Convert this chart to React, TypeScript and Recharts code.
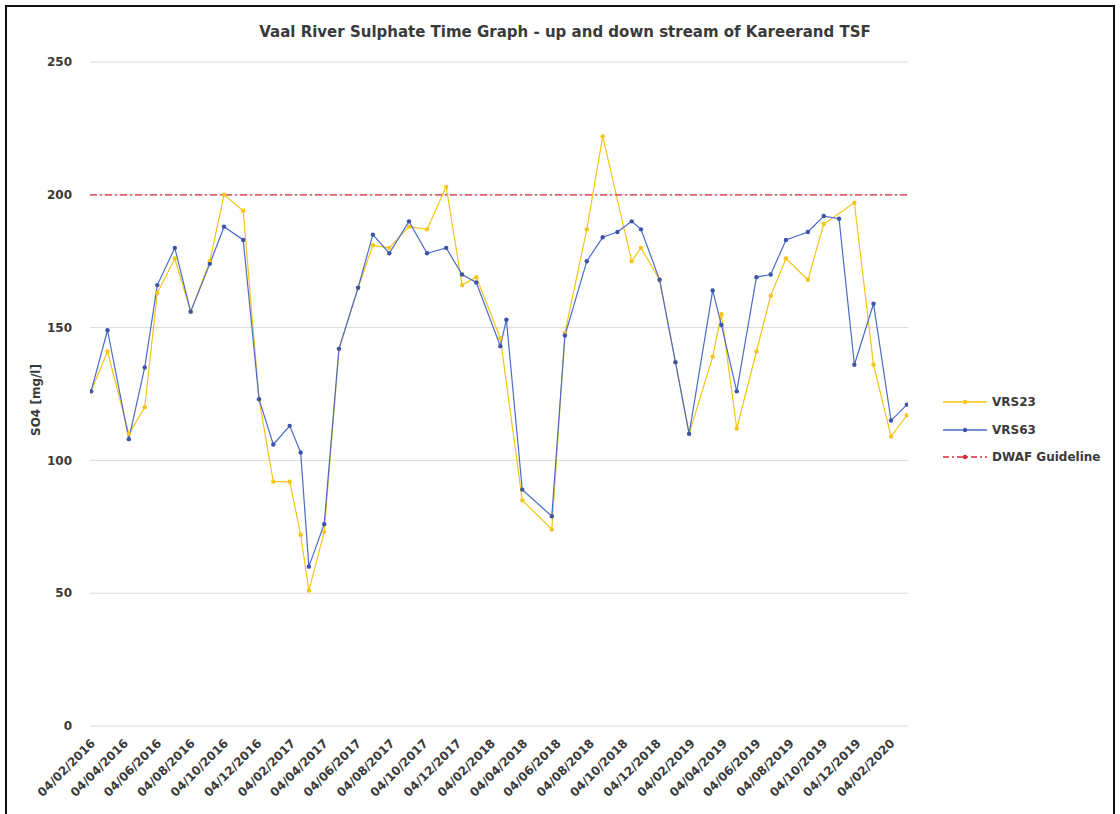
import React from "react";
import { LineChart, Line, XAxis, YAxis, CartesianGrid, ReferenceLine } from "recharts";

// sample dates (yyyy-mm-dd) and sulphate readings in mg/l
const sampleDates = [
  "2016-02-06", "2016-03-07", "2016-04-15", "2016-05-14", "2016-06-06", "2016-07-08",
  "2016-08-06", "2016-09-10", "2016-10-06", "2016-11-10", "2016-12-09", "2017-01-04",
  "2017-02-03", "2017-02-23", "2017-03-10", "2017-04-07", "2017-05-04", "2017-06-08",
  "2017-07-05", "2017-08-04", "2017-09-09", "2017-10-12", "2017-11-16", "2017-12-15",
  "2018-01-10", "2018-02-23", "2018-03-06", "2018-04-04", "2018-05-28", "2018-06-21",
  "2018-07-31", "2018-08-29", "2018-09-25", "2018-10-21", "2018-11-07", "2018-12-11",
  "2019-01-09", "2019-02-03", "2019-03-18", "2019-04-03", "2019-05-01", "2019-06-06",
  "2019-07-02", "2019-07-30", "2019-09-08", "2019-10-07", "2019-11-04", "2019-12-02",
  "2020-01-06", "2020-02-07", "2020-03-07",
];

const vrs23 = [
  126, 141, 110, 120, 163, 176, 156, 175, 200, 194, 123, 92,
  92, 72, 51, 73, 142, 165, 181, 180, 188, 187, 203, 166,
  169, 146, null, 85, 74, 148, 187, 222, null, 175, 180, 168,
  137, 110, 139, 155, 112, 141, 162, 176, 168, 189, null, 197,
  136, 109, 117,
];

const vrs63 = [
  126, 149, 108, 135, 166, 180, 156, 174, 188, 183, 123, 106,
  113, 103, 60, 76, 142, 165, 185, 178, 190, 178, 180, 170,
  167, 143, 153, 89, 79, 147, 175, 184, 186, 190, 187, 168,
  137, 110, 164, 151, 126, 169, 170, 183, 186, 192, 191, 136,
  159, 115, 121,
];

const DWAF_GUIDELINE = 200;

const yTicks = [0, 50, 100, 150, 200, 250];

const xTickDates = [
  "2016-02-04", "2016-04-04", "2016-06-04", "2016-08-04", "2016-10-04", "2016-12-04",
  "2017-02-04", "2017-04-04", "2017-06-04", "2017-08-04", "2017-10-04", "2017-12-04",
  "2018-02-04", "2018-04-04", "2018-06-04", "2018-08-04", "2018-10-04", "2018-12-04",
  "2019-02-04", "2019-04-04", "2019-06-04", "2019-08-04", "2019-10-04", "2019-12-04",
  "2020-02-04",
];

const axisStart = "2016-02-04";
const axisEnd = "2020-03-09";

const toTime = (d: string) =>
  Date.UTC(Number(d.slice(0, 4)), Number(d.slice(5, 7)) - 1, Number(d.slice(8, 10)));

const fmtDate = (t: number) => {
  const d = new Date(t);
  const dd = String(d.getUTCDate()).padStart(2, "0");
  const mm = String(d.getUTCMonth() + 1).padStart(2, "0");
  return `${dd}/${mm}/${d.getUTCFullYear()}`;
};

const chartData = sampleDates.map((d, i) => ({
  t: toTime(d),
  VRS23: vrs23[i],
  VRS63: vrs63[i],
}));

const FONT = "'DejaVu Sans', sans-serif";
const TEXT = "#3a3a3a";
const YELLOW = "#F5C518";
const BLUE = "#4a6cc8";
const BLUE_DOT = "#3d55a8";
const RED = "#e0283c";

const DateTick = ({ x, y, payload }: any) => {
  const tx = x + 6;
  const ty = y + 18;
  return (
    <text
      x={tx}
      y={ty}
      transform={`rotate(-45 ${tx} ${ty})`}
      textAnchor="end"
      fontFamily={FONT}
      fontSize={12}
      fontWeight="bold"
      fill={TEXT}
    >
      {fmtDate(payload.value)}
    </text>
  );
};

const legendItems = [
  { name: "VRS23", color: YELLOW, dot: YELLOW, dash: undefined as string | undefined },
  { name: "VRS63", color: BLUE, dot: BLUE_DOT, dash: undefined as string | undefined },
  { name: "DWAF Guideline", color: RED, dot: RED, dash: "6 3 2 3" },
];

export default function App() {
  return (
    <div
      style={{
        position: "absolute",
        left: 0,
        top: 0,
        width: 1120,
        height: 814,
        background: "#fff",
        overflow: "hidden",
        fontFamily: FONT,
      }}
    >
      <div
        style={{
          position: "absolute",
          left: 5,
          top: 5,
          width: 1106,
          height: 830,
          border: "2px solid #111",
        }}
      />
      <div
        style={{
          position: "absolute",
          left: 0,
          width: 1130,
          top: 23,
          textAlign: "center",
          fontSize: 15,
          fontWeight: "bold",
          color: TEXT,
        }}
      >
        Vaal River Sulphate Time Graph - up and down stream of Kareerand TSF
      </div>
      <div
        style={{
          position: "absolute",
          left: 36,
          top: 400,
          transform: "translate(-50%, -50%) rotate(-90deg)",
          whiteSpace: "nowrap",
          fontSize: 12,
          fontWeight: "bold",
          color: TEXT,
        }}
      >
        SO4 [mg/l]
      </div>

      <div style={{ position: "absolute", left: 0, top: 0 }}>
        <LineChart
          width={1120}
          height={814}
          data={chartData}
          margin={{ top: 62, right: 212, bottom: 8, left: 0 }}
        >
          <CartesianGrid vertical={false} stroke="#dadada" strokeWidth={1} />
          <XAxis
            dataKey="t"
            type="number"
            domain={[toTime(axisStart), toTime(axisEnd)]}
            ticks={xTickDates.map(toTime)}
            tick={<DateTick />}
            tickLine={false}
            axisLine={false}
            tickSize={0}
            tickMargin={0}
            height={80}
            interval={0}
            allowDataOverflow
          />
          <YAxis
            domain={[0, 250]}
            ticks={yTicks}
            width={90}
            tickLine={false}
            axisLine={false}
            tickSize={0}
            tickMargin={18}
            tick={{ fontFamily: FONT, fontSize: 12, fontWeight: "bold", fill: TEXT }}
          />
          <Line
            dataKey="VRS23"
            type="linear"
            stroke={YELLOW}
            strokeWidth={1.2}
            dot={{ r: 2.2, fill: YELLOW, stroke: "none" }}
            connectNulls
            isAnimationActive={false}
          />
          <Line
            dataKey="VRS63"
            type="linear"
            stroke={BLUE}
            strokeWidth={1.2}
            dot={{ r: 2.2, fill: BLUE_DOT, stroke: "none" }}
            connectNulls
            isAnimationActive={false}
          />
          <ReferenceLine
            y={DWAF_GUIDELINE}
            stroke={RED}
            strokeWidth={1.3}
            strokeDasharray="7 3 2 3"
          />
        </LineChart>
      </div>

      {legendItems.map((item, i) => (
        <div
          key={item.name}
          style={{
            position: "absolute",
            left: 943,
            top: 395 + i * 27.5,
            display: "flex",
            alignItems: "center",
            height: 14,
          }}
        >
          <svg width={46} height={14}>
            <line
              x1={0}
              y1={7}
              x2={44}
              y2={7}
              stroke={item.color}
              strokeWidth={1.3}
              strokeDasharray={item.dash}
            />
            <circle cx={22} cy={7} r={2.2} fill={item.dot} />
          </svg>
          <span
            style={{
              marginLeft: 3,
              fontSize: 12,
              fontWeight: "bold",
              color: TEXT,
              whiteSpace: "nowrap",
            }}
          >
            {item.name}
          </span>
        </div>
      ))}
    </div>
  );
}
